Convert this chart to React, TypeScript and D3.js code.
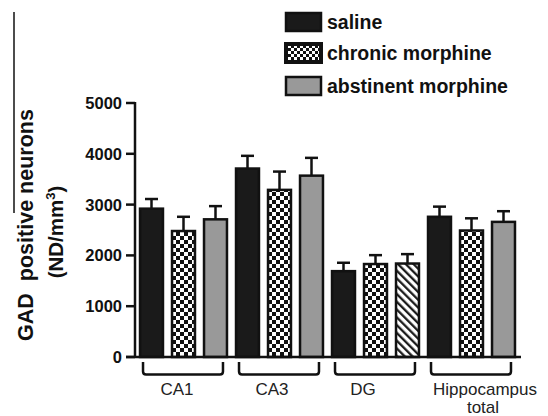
import React from "react";
import * as d3 from "d3";

const categories = ["CA1", "CA3", "DG", "Hippocampus total"];
const series = ["saline", "chronic morphine", "abstinent morphine"];
const salineValues = [2920, 3710, 1690, 2760];
const salineErrors = [190, 250, 165, 200];
const chronicValues = [2480, 3290, 1830, 2490];
const chronicErrors = [280, 360, 175, 240];
const abstinentValues = [2710, 3570, 1840, 2660];
const abstinentErrors = [260, 350, 185, 210];
const yTicks = [0, 1000, 2000, 3000, 4000, 5000];

const W = 548;
const H = 416;
const FONT = "'Liberation Sans', Arial, sans-serif";
const labelShift: Record<string, number> = { CA1: -6, CA3: -7, DG: -12, "Hippocampus total": 14 };

export default function App() {
  const y = d3.scaleLinear().domain([0, 5000]).range([357, 103]);
  const x0 = d3.scaleBand<string>().domain(categories).range([135.5, 519.5]).paddingInner(0).paddingOuter(0);
  const x1 = d3
    .scaleBand<string>()
    .domain(series)
    .range([0, x0.bandwidth()])
    .paddingInner(0.22)
    .paddingOuter(0.11);

  const valuesBySeries = [salineValues, chronicValues, abstinentValues];
  const errorsBySeries = [salineErrors, chronicErrors, abstinentErrors];

  const fillFor = (si: number, cat: string) => {
    if (si === 0) return "#1a1a1a";
    if (si === 1) return "url(#checker)";
    if (cat === "DG") return "url(#hatch)";
    return "#999999";
  };

  const bars: any[] = [];
  categories.forEach((cat, ci) => {
    series.forEach((s, si) => {
      const v = valuesBySeries[si][ci];
      const e = errorsBySeries[si][ci];
      const bx = (x0(cat) as number) + (x1(s) as number);
      const bw = x1.bandwidth();
      bars.push({ cat, s, si, v, e, bx, bw });
    });
  });

  const legendItems = series.map((s, i) => ({ s, i }));
  const legendY = [13, 44, 77];

  return (
    <svg
      width={W}
      height={H}
      style={{ position: "absolute", left: 0, top: 0, background: "#fff" }}
      fontFamily={FONT}
    >
      <defs>
        <pattern id="checker" width="8" height="8" patternUnits="userSpaceOnUse">
          <rect width="8" height="8" fill="#fff" />
          <rect x="0" y="0" width="4" height="4" fill="#111" />
          <rect x="4" y="4" width="4" height="4" fill="#111" />
        </pattern>
        <pattern id="checkerSmall" width="6" height="6" patternUnits="userSpaceOnUse">
          <rect width="6" height="6" fill="#fff" />
          <rect x="0" y="0" width="3" height="3" fill="#111" />
          <rect x="3" y="3" width="3" height="3" fill="#111" />
        </pattern>
        <pattern
          id="hatch"
          width="5.5"
          height="5.5"
          patternUnits="userSpaceOnUse"
          patternTransform="rotate(-45)"
        >
          <rect width="5.5" height="5.5" fill="#fff" />
          <line x1="1.2" y1="0" x2="1.2" y2="5.5" stroke="#111" strokeWidth="2.2" />
        </pattern>
      </defs>

      {/* stray left line */}
      <line x1={14} y1={12} x2={14} y2={213} stroke="#111" strokeWidth={1.5} />

      {/* bars */}
      {bars.map((b, i) => (
        <g key={i}>
          <line
            x1={b.bx + b.bw / 2}
            x2={b.bx + b.bw / 2}
            y1={y(b.v)}
            y2={y(b.v + b.e)}
            stroke="#111"
            strokeWidth={2.5}
          />
          <line
            x1={b.bx + b.bw / 2 - 6.5}
            x2={b.bx + b.bw / 2 + 6.5}
            y1={y(b.v + b.e)}
            y2={y(b.v + b.e)}
            stroke="#111"
            strokeWidth={2.5}
          />
          <rect
            x={b.bx + 1}
            y={y(b.v)}
            width={b.bw - 2}
            height={y(0) - y(b.v)}
            fill={fillFor(b.si, b.cat)}
            stroke="#111"
            strokeWidth={2.5}
          />
        </g>
      ))}

      {/* y axis */}
      <line x1={135} x2={135} y1={y(5000) - 1} y2={y(0)} stroke="#111" strokeWidth={2.5} />
      <line x1={126} x2={521} y1={y(0)} y2={y(0)} stroke="#111" strokeWidth={2.5} />
      {yTicks.map((t) => (
        <g key={t}>
          <line x1={126} x2={135} y1={y(t)} y2={y(t)} stroke="#111" strokeWidth={2.5} />
          <text
            x={122}
            y={y(t)}
            dy="0.36em"
            textAnchor="end"
            fontSize={16.5}
            fontWeight="bold"
            fill="#111"
          >
            {t}
          </text>
        </g>
      ))}

      {/* brackets and category labels */}
      {categories.map((cat) => {
        const left = (x0(cat) as number) + (x1(series[0]) as number) + 4;
        const right = (x0(cat) as number) + (x1(series[2]) as number) + x1.bandwidth() - 5;
        const cx = (left + right) / 2 + labelShift[cat];
        const top = 362;
        const bot = 374.5;
        const r = 3;
        const path = `M${left},${top} L${left},${bot - r} Q${left},${bot} ${left + r},${bot} L${right - r},${bot} Q${right},${bot} ${right},${bot - r} L${right},${top}`;
        const lines = cat === "Hippocampus total" ? ["Hippocampus", "total"] : [cat];
        return (
          <g key={cat}>
            <path d={path} fill="none" stroke="#111" strokeWidth={2.5} />
            {lines.map((ln, li) => (
              <text
                key={li}
                x={li === 0 ? cx : cx - 2}
                y={395 + li * 17.5}
                textAnchor="middle"
                fontSize={17}
                fill="#222"
              >
                {ln}
              </text>
            ))}
          </g>
        );
      })}

      {/* y title */}
      <text
        transform="translate(33,225) rotate(-90)"
        textAnchor="middle"
        fontSize={21.5}
        fontWeight="bold"
        fill="#111"
        style={{ whiteSpace: "pre" }}
      >
        {"GAD  positive neurons"}
      </text>
      <text
        transform="translate(63,232) rotate(-90)"
        textAnchor="middle"
        fontSize={20.5}
        fontWeight="bold"
        fill="#111"
      >
        (ND/mm<tspan dy="-8" fontSize={13}>3</tspan>
        <tspan dy="8">)</tspan>
      </text>

      {/* legend */}
      {legendItems.map(({ s, i }) => (
        <g key={s}>
          <rect
            x={286}
            y={legendY[i]}
            width={35}
            height={18}
            fill={i === 0 ? "#1a1a1a" : i === 1 ? "url(#checkerSmall)" : "#999999"}
            stroke="#111"
            strokeWidth={i === 1 ? 4 : 2.5}
          />
          <text x={327} y={legendY[i] + 16} fontSize={19.5} fontWeight="bold" fill="#111">
            {s}
          </text>
        </g>
      ))}
    </svg>
  );
}
